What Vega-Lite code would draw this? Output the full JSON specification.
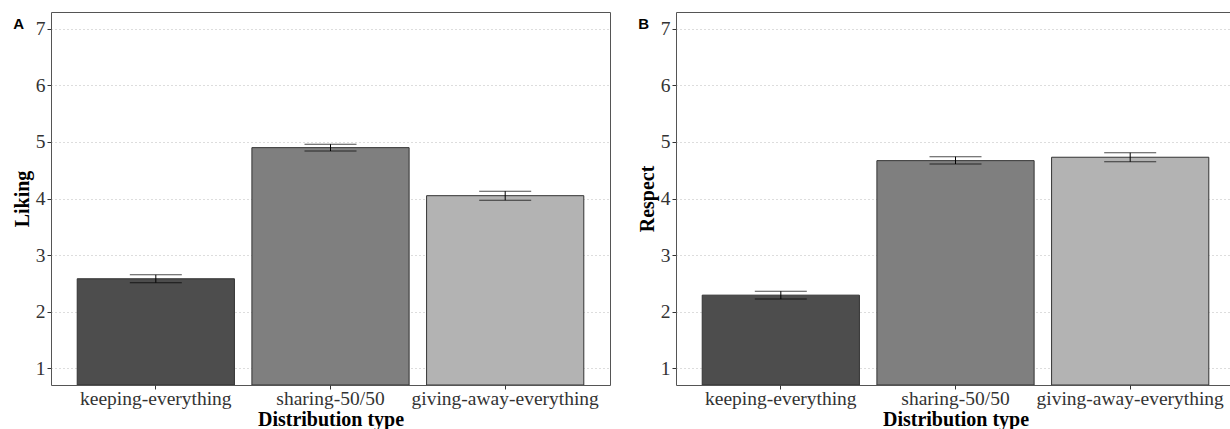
{
  "$schema": "https://vega.github.io/schema/vega-lite/v6.json",
  "background": "white",
  "padding": {"left": 11, "top": 11, "right": 0, "bottom": 0},
  "spacing": 25,
  "config": {
    "font": "Liberation Serif",
    "view": {"stroke": "#555555", "strokeWidth": 1},
    "axis": {
      "labelFont": "Liberation Serif",
      "labelFontSize": 19.5,
      "labelColor": "#333333",
      "labelLimit": 0,
      "titleFont": "Liberation Serif",
      "titleFontSize": 20,
      "titleFontWeight": "bold",
      "titleColor": "#000000",
      "tickColor": "#333333",
      "tickSize": 4,
      "domain": false,
      "gridColor": "#bbbbbb",
      "gridDash": [1, 3],
      "gridWidth": 1
    },
    "title": {"font": "Liberation Sans", "fontWeight": "bold", "fontSize": 15, "color": "#000000"}
  },
  "datasets": {
    "d": [
      {"measure": "Liking", "type": "keeping-everything", "mean": 2.58, "lo": 2.51, "hi": 2.65},
      {"measure": "Liking", "type": "sharing-50/50", "mean": 4.90, "lo": 4.84, "hi": 4.96},
      {"measure": "Liking", "type": "giving-away-everything", "mean": 4.05, "lo": 3.97, "hi": 4.13},
      {"measure": "Respect", "type": "keeping-everything", "mean": 2.29, "lo": 2.22, "hi": 2.36},
      {"measure": "Respect", "type": "sharing-50/50", "mean": 4.67, "lo": 4.61, "hi": 4.74},
      {"measure": "Respect", "type": "giving-away-everything", "mean": 4.73, "lo": 4.65, "hi": 4.81}
    ]
  },
  "hconcat": [
    {
      "width": 559,
      "height": 373,
      "title": {"text": "A", "anchor": "start", "frame": "bounds", "baseline": "middle", "dx": 1, "dy": 27, "offset": 0},
      "data": {"name": "d"},
      "transform": [{"filter": "datum.measure === 'Liking'"}],
      "encoding": {
        "x": {
          "field": "type", "type": "nominal",
          "sort": ["keeping-everything", "sharing-50/50", "giving-away-everything"],
          "scale": {"paddingInner": 0.1, "paddingOuter": 0.15},
          "axis": {"labelAngle": 0, "labelPadding": 0, "titlePadding": 2, "title": "Distribution type"}
        }
      },
      "layer": [
        {
          "mark": {"type": "bar", "stroke": "#333333", "strokeWidth": 1, "clip": true},
          "encoding": {
            "y": {"field": "mean", "type": "quantitative", "stack": null,
                  "scale": {"domain": [0.7, 7.3], "nice": false, "zero": false},
                  "axis": {"values": [1, 2, 3, 4, 5, 6, 7], "format": "d", "title": "Liking", "titlePadding": 3, "labelPadding": 2}},
            "fill": {"field": "type", "type": "nominal",
                     "scale": {"domain": ["keeping-everything", "sharing-50/50", "giving-away-everything"], "range": ["#4d4d4d", "#7f7f7f", "#b3b3b3"]},
                     "legend": null}
          }
        },
        {
          "mark": {"type": "rule", "color": "#000000", "strokeWidth": 1},
          "encoding": {"y": {"field": "lo", "type": "quantitative"}, "y2": {"field": "hi"}}
        },
        {
          "mark": {"type": "tick", "orient": "horizontal", "size": 52, "thickness": 1, "color": "#000000"},
          "encoding": {"y": {"field": "lo", "type": "quantitative"}}
        },
        {
          "mark": {"type": "tick", "orient": "horizontal", "size": 52, "thickness": 1, "color": "#000000"},
          "encoding": {"y": {"field": "hi", "type": "quantitative"}}
        }
      ]
    },
    {
      "width": 559,
      "height": 373,
      "title": {"text": "B", "anchor": "start", "frame": "bounds", "baseline": "middle", "dx": 1, "dy": 27, "offset": 0},
      "data": {"name": "d"},
      "transform": [{"filter": "datum.measure === 'Respect'"}],
      "encoding": {
        "x": {
          "field": "type", "type": "nominal",
          "sort": ["keeping-everything", "sharing-50/50", "giving-away-everything"],
          "scale": {"paddingInner": 0.1, "paddingOuter": 0.15},
          "axis": {"labelAngle": 0, "labelPadding": 0, "titlePadding": 2, "title": "Distribution type"}
        }
      },
      "layer": [
        {
          "mark": {"type": "bar", "stroke": "#333333", "strokeWidth": 1, "clip": true},
          "encoding": {
            "y": {"field": "mean", "type": "quantitative", "stack": null,
                  "scale": {"domain": [0.7, 7.3], "nice": false, "zero": false},
                  "axis": {"values": [1, 2, 3, 4, 5, 6, 7], "format": "d", "title": "Respect", "titlePadding": 3, "labelPadding": 2}},
            "fill": {"field": "type", "type": "nominal",
                     "scale": {"domain": ["keeping-everything", "sharing-50/50", "giving-away-everything"], "range": ["#4d4d4d", "#7f7f7f", "#b3b3b3"]},
                     "legend": null}
          }
        },
        {
          "mark": {"type": "rule", "color": "#000000", "strokeWidth": 1},
          "encoding": {"y": {"field": "lo", "type": "quantitative"}, "y2": {"field": "hi"}}
        },
        {
          "mark": {"type": "tick", "orient": "horizontal", "size": 52, "thickness": 1, "color": "#000000"},
          "encoding": {"y": {"field": "lo", "type": "quantitative"}}
        },
        {
          "mark": {"type": "tick", "orient": "horizontal", "size": 52, "thickness": 1, "color": "#000000"},
          "encoding": {"y": {"field": "hi", "type": "quantitative"}}
        }
      ]
    }
  ]
}
